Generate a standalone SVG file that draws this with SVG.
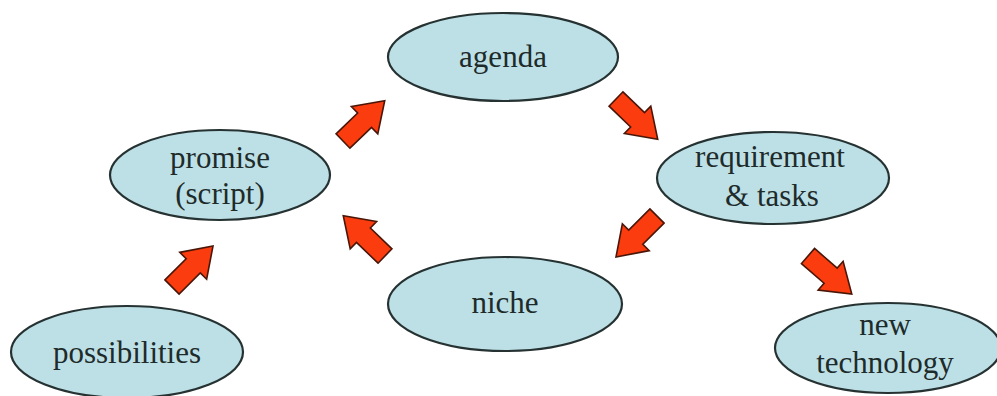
<svg xmlns="http://www.w3.org/2000/svg" width="997" height="396" viewBox="0 0 997 396">
<style>
.node ellipse{fill:#bde0e6;stroke:#263232;stroke-width:2.2}
.node text{font-family:"Liberation Serif","Times New Roman",serif;font-size:31px;fill:#1e2b2b;text-anchor:middle}
.arr{fill:#fa3c0f;stroke:#4a1608;stroke-width:1.6;stroke-linejoin:miter}
</style>
<defs>
<path id="blk" d="M0,-10 L30,-10 L30,-19 L58,0 L30,19 L30,10 L0,10 Z"/>
</defs>
<rect width="997" height="396" fill="#ffffff"/>
<g id="connectors">
<use href="#blk" class="arr" transform="translate(172,287) rotate(-45)"/>
<use href="#blk" class="arr" transform="translate(343,141) rotate(-44)"/>
<use href="#blk" class="arr" transform="translate(616,99) rotate(44)"/>
<use href="#blk" class="arr" transform="translate(657,216) rotate(135)"/>
<use href="#blk" class="arr" transform="translate(385,256) rotate(-136)"/>
<use href="#blk" class="arr" transform="translate(808,256) rotate(41)"/>
</g>
<g id="agenda" class="node">
<ellipse cx="503" cy="57" rx="115" ry="44"/>
<text x="503" y="67">agenda</text>
</g>
<g id="promise" class="node">
<ellipse cx="220" cy="175" rx="110" ry="45"/>
<text x="220" y="168">promise</text>
<text x="220" y="204">(script)</text>
</g>
<g id="requirement" class="node">
<ellipse cx="773" cy="178" rx="116" ry="46"/>
<text x="770" y="167">requirement</text>
<text x="772" y="206">&amp; tasks</text>
</g>
<g id="niche" class="node">
<ellipse cx="505" cy="304" rx="117" ry="47"/>
<text x="505" y="313">niche</text>
</g>
<g id="possibilities" class="node">
<ellipse cx="127" cy="352" rx="116" ry="46"/>
<text x="127" y="363">possibilities</text>
</g>
<g id="newtech" class="node">
<ellipse cx="888" cy="348" rx="113" ry="45"/>
<text x="885" y="335">new</text>
<text x="885" y="373">technology</text>
</g>
</svg>
